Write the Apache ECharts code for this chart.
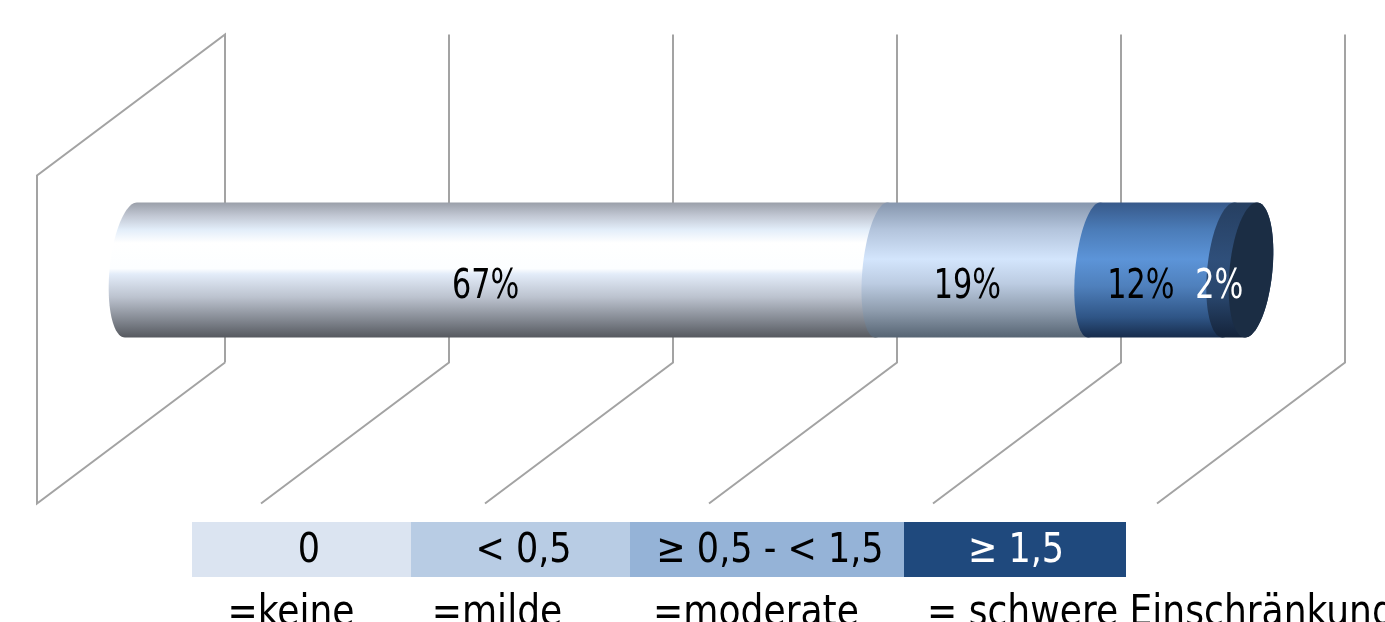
<!DOCTYPE html>
<html>
<head>
<meta charset="utf-8">
<style>html,body{margin:0;padding:0;background:#fff;overflow:hidden}#c{width:1385px;height:622px}</style>
<script src="https://cdn.jsdelivr.net/npm/echarts@6/dist/echarts.min.js"></script>
</head>
<body>
<div id="c"></div>
<script>
// Stacked share of patients per impairment class
const shares = [67, 19, 12, 2];
const shareLabels = ['67%', '19%', '12%', '2%'];
const labelColors = ['#000000', '#000000', '#000000', '#ffffff'];
const ticks = [0, 20, 40, 60, 80, 100];

// Score classes shown in the key below the chart
const scoreRanges = ['0', '< 0,5', '≥ 0,5 - < 1,5', '≥ 1,5'];
const rangeColors = ['#dbe4f1', '#b8cce4', '#95b3d7', '#1f497d'];
const rangeTextColors = ['#000000', '#000000', '#000000', '#ffffff'];
const severityNames = ['=keine', '=milde', '=moderate', '= schwere Einschränkung'];

const FONT = '"DejaVu Sans Condensed", "DejaVu Sans", sans-serif';

// Vertical shading of each cylinder section
const shading = [
  [[0,'#9a9fa9'],[0.1,'#c2c8d4'],[0.2,'#e2edf9'],[0.3,'#ffffff'],[0.49,'#fcfeff'],[0.53,'#e3ecf9'],[0.7,'#bcc3cf'],[0.88,'#7f848d'],[1,'#56595f']],
  [[0,'#8696ad'],[0.2,'#b3c4dc'],[0.42,'#d3e5fc'],[0.6,'#bccce2'],[0.8,'#8f9dae'],[1,'#566473']],
  [[0,'#37598a'],[0.2,'#4b7cb8'],[0.42,'#5c94d8'],[0.62,'#4f80bc'],[0.85,'#2f5586'],[1,'#172c4c']],
  [[0,'#263f61'],[0.42,'#2f4f7a'],[0.7,'#28456b'],[1,'#14233a']]
];
const capColor = '#1b2d44';

const RX_END = 21.5;   // horizontal radius at the two cylinder ends and the last joint
const RX_JOINT = 19;   // horizontal radius at the inner joints
const SKEW = 6;        // oblique lean of the ellipses
const BAR_RATIO = 135 / 328; // cylinder diameter relative to the band
const BAR_DROP = 1;    // the cylinder sits a pixel below the band's centre
const DEPTH_X = 94, DEPTH_Y = 70.5; // oblique offset from the bar plane to each wall

function arc(cx, cy, rx, ry, from, to, n) {
  const pts = [];
  for (let i = 0; i <= n; i++) {
    const t = from + (to - from) * i / n;
    pts.push([cx + rx * Math.cos(t) - SKEW * Math.sin(t), cy + BAR_DROP + ry * Math.sin(t)]);
  }
  return pts;
}

const cum = [];
shares.reduce((a, v, i) => { cum[i] = [a, a + v, i]; return a + v; }, 0);

const chart = echarts.init(document.getElementById('c'), null, { renderer: 'canvas' });

function textEl(txt, x, y, size, color, sx) {
  return {
    type: 'text', x: x, y: y, scaleX: sx, z: 20,
    style: { text: txt, fill: color, font: size + 'px ' + FONT, align: 'center', verticalAlign: 'middle' }
  };
}

// Key table cells
const edges = [192, 411, 630, 904, 1126];
const rangeTextX = [309, 523.5, 770, 1016];
const nameX = [291, 497, 756, 927];
const keyGraphics = [];
scoreRanges.forEach((t, i) => {
  keyGraphics.push({ type: 'rect', shape: { x: edges[i], y: 522, width: edges[i + 1] - edges[i], height: 55 }, style: { fill: rangeColors[i] } });
  keyGraphics.push(textEl(t, rangeTextX[i], 551, 41, rangeTextColors[i], 0.95));
  keyGraphics.push({
    type: 'text', x: nameX[i], y: 614, scaleX: 0.955,
    style: { text: severityNames[i], fill: '#000', font: '42px ' + FONT, align: i === 3 ? 'left' : 'center', verticalAlign: 'middle' }
  });
});

chart.setOption({
  animation: false,
  backgroundColor: '#ffffff',
  grid: { left: 131, width: 1120, top: 105, height: 328 },
  xAxis: { type: 'value', min: 0, max: 100, interval: 20, show: false },
  yAxis: { type: 'category', data: ['Anteil'], show: false },
  graphic: keyGraphics,
  series: [
    {
      // Floor lines and upright lines of the oblique frame
      type: 'custom', coordinateSystem: 'cartesian2d', silent: true, z: 1,
      data: ticks.map(v => [v, 0]),
      clip: false,
      renderItem(params, api) {
        const p = api.coord([api.value(0), 0]);
        const h = api.size([0, 1])[1] / 2;
        const backTop = [p[0] + DEPTH_X, p[1] - h - DEPTH_Y];
        const backBottom = [p[0] + DEPTH_X, p[1] + h - DEPTH_Y];
        const frontBottom = [p[0] - DEPTH_X, p[1] + h + DEPTH_Y];
        const frontTop = [p[0] - DEPTH_X, p[1] - h + DEPTH_Y];
        const pts = api.value(0) === ticks[0]
          ? [backBottom, backTop, frontTop, frontBottom, backBottom]
          : [backTop, backBottom, frontBottom];
        return { type: 'polyline', shape: { points: pts }, style: { stroke: '#a3a3a3', lineWidth: 2, fill: null } };
      }
    },
    {
      // Cylinder sections, each overlapping the one to its left
      type: 'custom', coordinateSystem: 'cartesian2d', silent: true, z: 2,
      data: cum,
      clip: false,
      renderItem(params, api) {
        const i = api.value(2);
        const a = api.coord([api.value(0), 0]);
        const b = api.coord([api.value(1), 0]);
        const ry = api.size([0, 1])[1] * BAR_RATIO / 2;
        const rxLeft = (i === 1 || i === 2) ? RX_JOINT : RX_END;
        const pts = arc(a[0], a[1], rxLeft, ry, -Math.PI / 2, -3 * Math.PI / 2, 40)
          .concat(arc(b[0], b[1], RX_END, ry, Math.PI / 2, -Math.PI / 2, 40));
        const children = [{
          type: 'polygon', shape: { points: pts },
          style: { fill: new echarts.graphic.LinearGradient(0, 0, 0, 1, shading[i].map(s => ({ offset: s[0], color: s[1] }))) }
        }];
        if (i === shares.length - 1) {
          children.push({
            type: 'polygon', shape: { points: arc(b[0], b[1], RX_END, ry, 0, 2 * Math.PI, 80) },
            style: { fill: capColor }
          });
        }
        return { type: 'group', children };
      }
    },
    {
      // Value labels centred on the visible part of each section
      type: 'custom', coordinateSystem: 'cartesian2d', silent: true, z: 3,
      data: cum,
      clip: false,
      renderItem(params, api) {
        const i = api.value(2);
        const m = api.coord([(api.value(0) + api.value(1)) / 2, 0]);
        return textEl(shareLabels[i], m[0] - RX_END + 1, m[1] + 18, 41, labelColors[i], 0.82);
      }
    }
  ]
});
</script>
</body>
</html>
